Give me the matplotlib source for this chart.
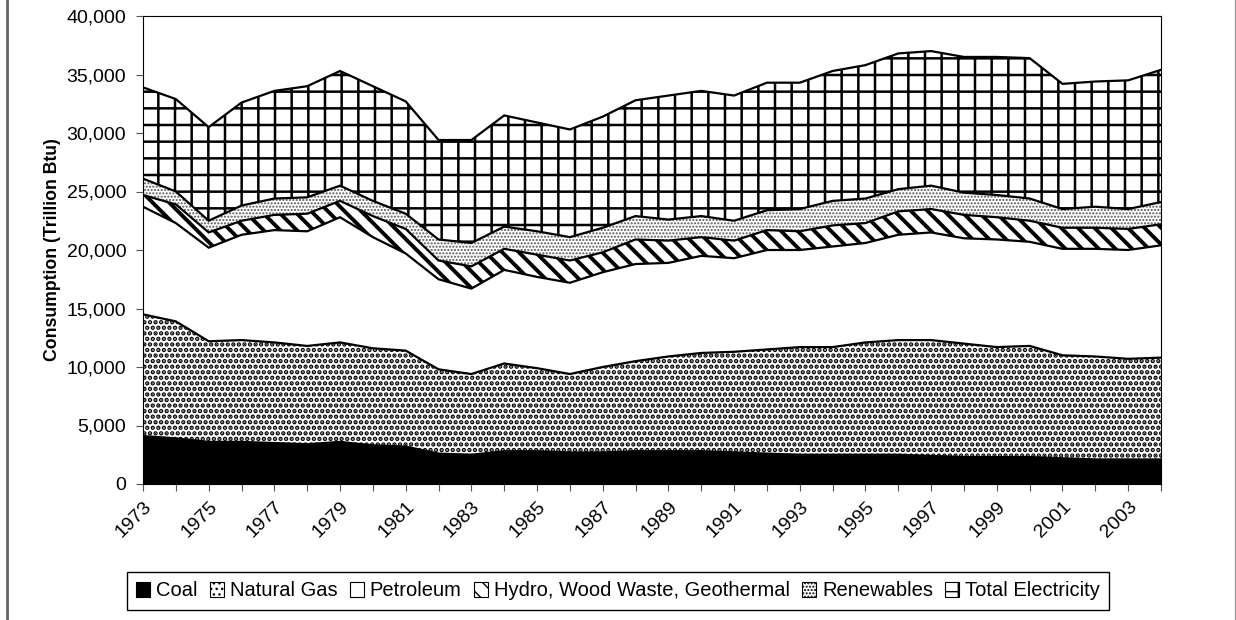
import numpy as np
import matplotlib.pyplot as plt
from matplotlib.patches import Patch
from matplotlib.lines import Line2D

plt.rcParams['font.family'] = ['Liberation Sans', 'DejaVu Sans']

years = np.arange(1973, 2005)
coal = [4100, 3900, 3600, 3600, 3500, 3400, 3600, 3300, 3200, 2600, 2500, 2800, 2800, 2700, 2700, 2800,
        2800, 2800, 2700, 2600, 2500, 2500, 2500, 2500, 2400, 2300, 2300, 2300, 2200, 2100, 2100, 2100]
natural_gas = [10400, 10000, 8600, 8700, 8600, 8400, 8500, 8300, 8200, 7200, 6900, 7500, 7100, 6700, 7300, 7700,
               8100, 8400, 8600, 8900, 9200, 9200, 9600, 9800, 9900, 9700, 9400, 9500, 8800, 8800, 8600, 8700]
petroleum = [9200, 8400, 8000, 9000, 9600, 9800, 10700, 9500, 8300, 7700, 7300, 8000, 7800, 7800, 8100, 8300,
             8000, 8300, 8000, 8500, 8300, 8600, 8500, 9000, 9200, 9000, 9200, 8900, 9100, 9200, 9300, 9600]
hydro = [1000, 1600, 1300, 1200, 1300, 1500, 1400, 1800, 2100, 1600, 1900, 1800, 1900, 1900, 1700, 2100,
         1900, 1600, 1500, 1700, 1600, 1800, 1700, 2000, 2000, 2000, 1900, 1800, 1800, 1800, 1800, 1800]
renewables = [1400, 1100, 1000, 1300, 1400, 1400, 1300, 1300, 1300, 1800, 2000, 1900, 2000, 2000, 2100, 2000,
              1800, 1800, 1700, 1700, 1900, 2100, 2100, 1900, 2000, 1900, 1900, 1900, 1600, 1800, 1700, 1900]
electricity = [7800, 7900, 8000, 8800, 9200, 9500, 9800, 9800, 9600, 8500, 8800, 9500, 9300, 9200, 9500, 9900,
               10600, 10700, 10700, 10900, 10800, 11100, 11400, 11600, 11500, 11600, 11800, 12000, 10700, 10700,
               11000, 11300]

labels = ['Coal', 'Natural Gas', 'Petroleum', 'Hydro, Wood Waste, Geothermal', 'Renewables', 'Total Electricity']
series = [coal, natural_gas, petroleum, hydro, renewables, electricity]
# face, hatch, hatch colour, hatch line width
styles = [('black', None, 'black', 1.0),
          ('white', '...', 'black', 2.2),
          ('white', None, 'black', 1.0),
          ('white', '\\\\', 'black', 2.8),
          ('white', '.....', '#555555', 1.0),
          ('white', '+', 'black', 1.8)]

fig = plt.figure(figsize=(12.36, 6.2), dpi=100)
ax = fig.add_axes([143 / 1236, 1 - 484 / 620, (1161 - 143) / 1236, (484 - 16) / 620])

bottom = np.zeros(len(years))
handles = []
for vals, lab, (fc, hatch, hc, hlw) in zip(series, labels, styles):
    top = bottom + np.array(vals)
    plt.rcParams['hatch.linewidth'] = hlw
    pc = ax.fill_between(years, bottom, top, facecolor=fc, edgecolor=hc, hatch=hatch, linewidth=0)
    if hasattr(pc, 'set_hatch_linewidth'):
        pc.set_hatch_linewidth(hlw)
    ax.plot(years, top, color='black', lw=1.6, solid_joinstyle='miter')
    handles.append(Patch(facecolor=fc, edgecolor='black', hatch=hatch, linewidth=0.8))
    bottom = top
plt.rcParams['hatch.linewidth'] = 1.0

ax.set_xlim(1973, 2004)
ax.set_ylim(0, 40000)
ax.set_yticks(np.arange(0, 40001, 5000))
ax.set_yticklabels([f'{v:,}' for v in range(0, 40001, 5000)], fontsize=14)
ax.set_xticks(years, minor=True)
ax.set_xticks(years[::2])
ax.set_xticklabels([str(y) for y in years[::2]], rotation=45, ha='right', rotation_mode='anchor', fontsize=14)
ax.tick_params(axis='both', which='both', direction='out', length=5, width=0.8, color='#555555')
ax.tick_params(axis='y', pad=7)
ax.tick_params(axis='x', which='major', pad=5)
ax.set_ylabel('Consumption (Trillion Btu)', fontsize=12.7, fontweight='bold', labelpad=4)
for s in ax.spines.values():
    s.set_linewidth(0.8)

fig.legend(handles, labels, loc='center', bbox_to_anchor=(618 / 1236, 1 - 591 / 620), ncol=6,
           fontsize=14.5, frameon=True, fancybox=False, edgecolor='black', framealpha=1,
           handlelength=0.7, handleheight=0.7, handletextpad=0.3, columnspacing=0.6, borderpad=0.45)

fig.add_artist(Line2D([7 / 1236, 7 / 1236], [0, 1], color='#666666', lw=2))
fig.add_artist(Line2D([1234.5 / 1236, 1234.5 / 1236], [0, 1], color='#999999', lw=1))

fig.savefig('out.png', dpi=100)
